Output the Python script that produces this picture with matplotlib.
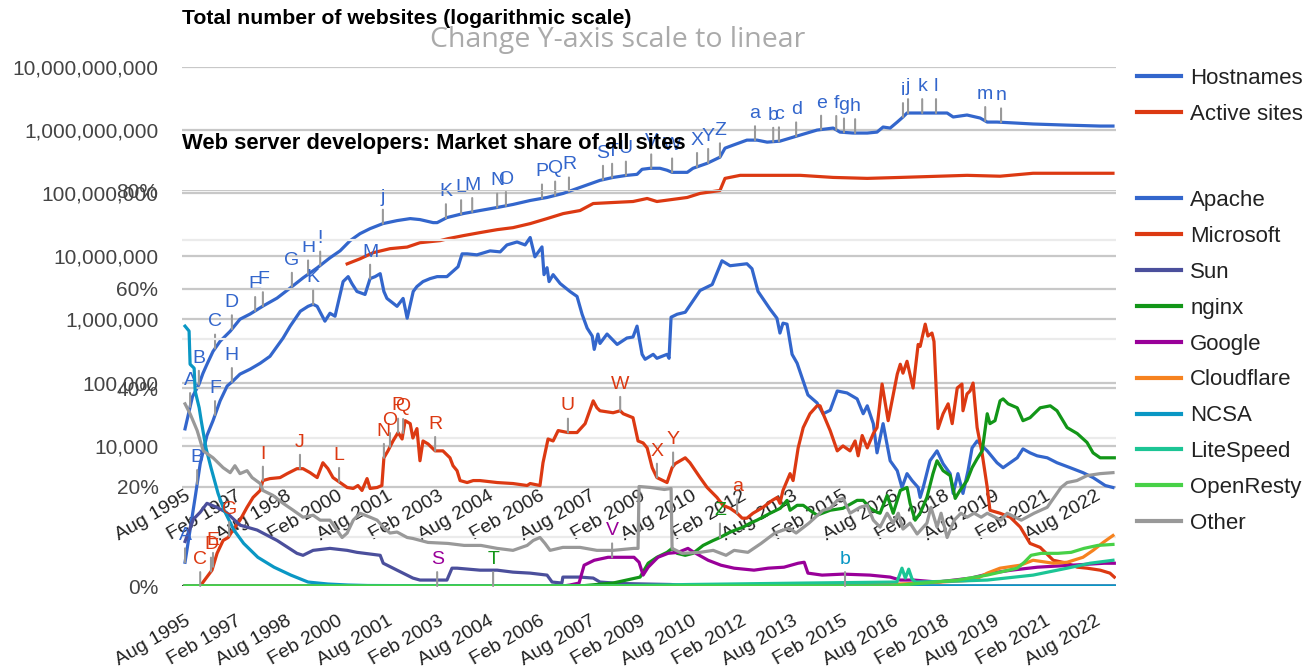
import numpy as np
import matplotlib
matplotlib.use("Agg")
import matplotlib.pyplot as plt
from matplotlib.lines import Line2D

plt.rcParams['font.family'] = ['Liberation Sans', 'DejaVu Sans']

# ---------------- data: total number of websites (log scale) ----------------
hostnames_x = [1995.58, 1995.80, 1995.99, 1996.11, 1996.23, 1996.41, 1996.62, 1996.92, 1997.21, 1997.51,
               1997.89, 1998.31, 1998.70, 1999.08, 1999.50, 1999.88, 2000.18, 2000.48, 2000.77, 2001.07,
               2001.45, 2001.87, 2002.26, 2002.55, 2002.94, 2003.06, 2003.35, 2003.83, 2004.33, 2004.84,
               2005.31, 2005.82, 2006.32, 2006.80, 2007.30, 2007.89, 2008.28, 2008.69, 2008.99, 2009.14,
               2009.38, 2009.67, 2009.88, 2010.03, 2010.48, 2010.65, 2011.07, 2011.45, 2011.60, 2011.84,
               2012.25, 2012.55, 2012.85, 2013.23, 2013.83, 2014.33, 2014.81, 2015.01, 2015.40, 2015.82,
               2016.11, 2016.29, 2016.50, 2016.71, 2016.88, 2017.00, 2017.39, 2017.77, 2018.19, 2018.37,
               2018.78, 2019.17, 2019.38, 2019.67, 2020.15, 2020.74, 2021.75, 2022.73, 2023.11]
hostnames_y = [1.86e4, 6.0e4, 9.3e4, 1.40e5, 1.95e5, 3.13e5, 4.52e5, 6.52e5, 1.01e6, 1.22e6,
               1.63e6, 2.18e6, 3.15e6, 4.55e6, 6.56e6, 9.46e6, 1.22e7, 1.77e7, 2.28e7, 2.74e7,
               3.29e7, 3.67e7, 3.95e7, 3.81e7, 3.41e7, 3.41e7, 4.10e7, 4.74e7, 5.30e7, 5.92e7,
               6.61e7, 7.64e7, 8.53e7, 9.89e7, 1.23e8, 1.59e8, 1.77e8, 1.91e8, 1.98e8, 2.38e8,
               2.47e8, 2.47e8, 2.30e8, 2.13e8, 2.13e8, 2.47e8, 2.96e8, 3.70e8, 5.14e8, 5.74e8,
               6.89e8, 6.89e8, 6.40e8, 6.64e8, 8.28e8, 9.93e8, 1.07e9, 9.23e8, 8.91e8, 8.91e8,
               9.23e8, 1.11e9, 1.07e9, 1.33e9, 1.60e9, 1.85e9, 1.85e9, 1.85e9, 1.85e9, 1.60e9,
               1.72e9, 1.54e9, 1.33e9, 1.33e9, 1.29e9, 1.24e9, 1.19e9, 1.15e9, 1.15e9]

active_x = [2000.39, 2000.77, 2001.16, 2001.66, 2002.17, 2002.55, 2003.15, 2003.38, 2003.83, 2004.33,
            2004.84, 2005.31, 2005.82, 2006.32, 2006.80, 2007.30, 2007.69, 2008.28, 2008.87, 2009.29,
            2009.58, 2010.48, 2010.86, 2011.45, 2011.60, 2012.05, 2013.83, 2014.81, 2015.82, 2016.80,
            2018.78, 2019.76, 2020.74, 2023.11]
active_y = [7.59e6, 9.12e6, 1.14e7, 1.32e7, 1.40e7, 1.64e7, 1.77e7, 1.90e7, 2.12e7, 2.37e7,
            2.64e7, 2.84e7, 3.29e7, 3.95e7, 4.74e7, 5.30e7, 6.84e7, 7.10e7, 7.36e7, 8.22e7,
            7.36e7, 8.53e7, 9.89e7, 1.10e8, 1.71e8, 1.91e8, 1.91e8, 1.77e8, 1.71e8, 1.77e8,
            1.91e8, 1.85e8, 2.06e8, 2.06e8]

# ---------------- data: market share of all sites (%) ----------------
apache_x = [1995.58, 1995.73, 1995.88, 1996.03, 1996.23, 1996.41, 1996.62, 1996.83, 1997.00, 1997.21,
            1997.51, 1997.81, 1998.10, 1998.49, 1998.70, 1999.00, 1999.23, 1999.38, 1999.50, 1999.73,
            1999.88, 2000.03, 2000.27, 2000.42, 2000.53, 2000.68, 2000.92, 2001.07, 2001.22, 2001.37,
            2001.48, 2001.57, 2001.87, 2002.05, 2002.17, 2002.35, 2002.46, 2002.64, 2002.85, 2003.06,
            2003.35, 2003.68, 2003.80, 2003.95, 2004.24, 2004.63, 2004.93, 2005.13, 2005.43, 2005.67,
            2005.82, 2005.96, 2006.17, 2006.23, 2006.32, 2006.38, 2006.50, 2006.71, 2007.00, 2007.21,
            2007.36, 2007.51, 2007.66, 2007.72, 2007.83, 2007.89, 2008.10, 2008.40, 2008.69, 2008.87,
            2008.99, 2009.14, 2009.23, 2009.47, 2009.58, 2009.88, 2009.94, 2010.00, 2010.18, 2010.42,
            2010.86, 2011.22, 2011.51, 2011.75, 2012.25, 2012.40, 2012.58, 2012.94, 2013.14, 2013.23,
            2013.32, 2013.44, 2013.59, 2013.74, 2013.92, 2014.06, 2014.33, 2014.51, 2014.72, 2014.93,
            2015.22, 2015.52, 2015.70, 2015.82, 2016.00, 2016.11, 2016.29, 2016.50, 2016.71, 2016.85,
            2017.00, 2017.15, 2017.33, 2017.39, 2017.48, 2017.68, 2017.89, 2018.07, 2018.28, 2018.37,
            2018.51, 2018.66, 2018.81, 2018.93, 2019.08, 2019.38, 2019.67, 2019.85, 2020.06, 2020.27,
            2020.44, 2020.65, 2020.86, 2021.16, 2021.45, 2021.84, 2022.22, 2022.52, 2022.88, 2023.11]
apache_y = [4.8, 11.3, 17.9, 24.7, 30.4, 33.4, 37.4, 40.4, 41.4, 42.8,
            43.8, 45.0, 46.4, 50.1, 52.5, 55.5, 56.5, 56.9, 56.5, 53.5,
            55.1, 54.5, 61.5, 62.5, 61.1, 59.5, 58.9, 62.1, 62.5, 63.1,
            59.5, 58.1, 56.5, 58.1, 54.1, 59.5, 60.5, 61.5, 62.1, 62.5,
            62.5, 64.5, 67.1, 67.1, 66.9, 67.7, 67.5, 68.9, 69.5, 68.9,
            70.4, 66.5, 68.5, 62.9, 64.3, 61.5, 62.9, 61.1, 59.5, 58.5,
            54.9, 52.1, 50.5, 47.8, 50.9, 49.0, 50.9, 48.8, 50.1, 50.3,
            52.5, 46.8, 45.8, 46.8, 46.0, 46.8, 46.0, 54.3, 54.9, 55.3,
            59.7, 60.9, 65.7, 64.7, 65.1, 64.1, 59.5, 55.9, 54.1, 51.1,
            53.1, 52.9, 46.8, 45.0, 41.4, 38.6, 37.0, 34.8, 35.5, 39.4,
            39.0, 37.8, 34.8, 36.4, 32.8, 26.9, 32.8, 25.3, 23.3, 19.9,
            22.7, 21.3, 19.9, 17.9, 19.9, 25.3, 27.3, 24.7, 22.7, 18.7,
            22.7, 18.7, 23.3, 27.9, 29.3, 27.3, 24.9, 23.9, 24.9, 25.9,
            27.7, 26.9, 26.3, 25.9, 24.9, 23.9, 22.9, 21.9, 20.3, 19.9]

microsoft_x = [1996.03, 1996.38, 1996.53, 1996.71, 1996.86, 1997.00, 1997.21, 1997.42, 1997.60, 1997.81,
               1997.89, 1998.10, 1998.40, 1998.61, 1998.90, 1999.08, 1999.29, 1999.50, 1999.67, 1999.82,
               1999.97, 2000.18, 2000.39, 2000.57, 2000.71, 2000.83, 2000.98, 2001.07, 2001.28, 2001.42,
               2001.48, 2001.60, 2001.75, 2001.90, 2002.02, 2002.11, 2002.26, 2002.34, 2002.46, 2002.55,
               2002.64, 2002.79, 2003.00, 2003.23, 2003.44, 2003.53, 2003.65, 2003.74, 2003.95, 2004.13,
               2004.33, 2004.84, 2005.31, 2005.73, 2005.82, 2006.11, 2006.20, 2006.35, 2006.50, 2006.65,
               2006.94, 2007.21, 2007.45, 2007.69, 2007.80, 2007.89, 2008.28, 2008.49, 2008.58, 2008.87,
               2009.02, 2009.17, 2009.29, 2009.44, 2009.58, 2009.88, 2010.03, 2010.12, 2010.42, 2010.56,
               2010.86, 2011.07, 2011.36, 2011.54, 2011.75, 2011.96, 2012.11, 2012.25, 2012.43, 2012.73,
               2013.00, 2013.15, 2013.23, 2013.32, 2013.53, 2013.62, 2013.77, 2013.92, 2014.12, 2014.33,
               2014.42, 2014.51, 2014.72, 2014.93, 2015.10, 2015.31, 2015.46, 2015.55, 2015.67, 2015.82,
               2016.00, 2016.11, 2016.26, 2016.44, 2016.71, 2016.80, 2016.88, 2017.00, 2017.18, 2017.33,
               2017.39, 2017.54, 2017.62, 2017.74, 2017.80, 2017.92, 2018.07, 2018.22, 2018.34, 2018.49,
               2018.63, 2018.66, 2018.78, 2018.87, 2018.96, 2019.08, 2019.23, 2019.38, 2019.46, 2019.76,
               2020.06, 2020.36, 2020.65, 2020.95, 2021.34, 2021.75, 2022.05, 2022.34, 2022.73, 2023.02,
               2023.15]
microsoft_y = [0.0, 3.2, 6.6, 9.2, 9.8, 11.3, 13.3, 15.9, 17.9, 19.3,
               21.3, 21.7, 21.9, 22.7, 23.7, 23.7, 22.9, 21.9, 24.9, 23.7,
               21.9, 20.9, 19.9, 19.7, 20.3, 19.3, 21.7, 19.7, 19.9, 20.3,
               25.9, 27.3, 29.3, 31.0, 29.7, 33.4, 32.8, 29.9, 31.8, 25.3,
               29.3, 28.7, 27.3, 27.3, 25.9, 24.3, 23.3, 21.3, 20.9, 21.3,
               21.3, 20.9, 20.7, 20.3, 20.7, 20.3, 24.9, 29.7, 29.3, 31.4,
               31.0, 31.0, 32.8, 37.4, 36.0, 35.4, 35.0, 35.4, 34.8, 34.0,
               29.3, 28.9, 27.9, 23.9, 21.9, 20.9, 23.9, 24.7, 25.9, 24.9,
               21.9, 19.9, 17.9, 16.3, 15.7, 14.7, 13.7, 13.7, 14.7, 15.9,
               17.3, 17.9, 16.7, 19.3, 22.7, 21.3, 27.9, 32.0, 34.8, 36.4,
               36.4, 34.8, 31.4, 27.3, 28.3, 27.3, 29.3, 26.3, 30.4, 27.9,
               30.8, 32.0, 40.8, 33.4, 42.8, 44.8, 43.0, 45.4, 40.0, 48.8,
               48.4, 52.9, 50.5, 51.1, 49.4, 31.8, 34.8, 36.8, 32.8, 40.0,
               40.8, 35.4, 38.8, 39.4, 41.0, 32.0, 26.7, 19.9, 15.3, 14.7,
               13.9, 11.9, 8.6, 7.8, 5.2, 4.6, 3.8, 3.6, 3.2, 2.6,
               1.8]

sun_x = [1995.58, 1995.83, 1996.03, 1996.23, 1996.52, 1996.80, 1997.21, 1997.72, 1998.31, 1998.90,
         1999.08, 1999.38, 1999.88, 2000.39, 2000.68, 2001.37, 2001.46, 2001.87, 2002.34, 2002.55,
         2003.35, 2003.50, 2003.65, 2004.33, 2004.84, 2005.31, 2005.82, 2006.32, 2006.47, 2006.76,
         2006.79, 2007.30, 2007.69, 2007.89, 2008.50, 2010.00, 2010.50, 2023.15]
sun_y = [9.0, 13.5, 14.9, 16.7, 15.9, 14.9, 12.3, 11.3, 9.2, 6.6,
         6.2, 7.2, 7.6, 7.2, 6.8, 6.2, 4.6, 3.2, 1.6, 1.2,
         1.2, 3.6, 3.6, 3.2, 3.2, 2.8, 2.6, 2.2, 0.8, 0.6,
         1.8, 1.8, 1.6, 0.8, 0.5, 0.3, 0.0, 0.0]

nginx_x = [1995.58, 2007.30, 2008.28, 2009.08, 2009.32, 2009.58, 2009.88, 2010.03, 2010.18, 2010.42,
           2010.65, 2010.95, 2011.25, 2011.45, 2011.75, 2012.14, 2012.35, 2012.55, 2012.94, 2013.24,
           2013.44, 2013.53, 2013.74, 2013.92, 2014.12, 2014.33, 2014.72, 2015.10, 2015.52, 2015.70,
           2015.91, 2016.11, 2016.20, 2016.41, 2016.59, 2016.80, 2017.00, 2017.09, 2017.24, 2017.39,
           2017.59, 2017.77, 2017.89, 2018.07, 2018.28, 2018.43, 2018.57, 2018.78, 2018.93, 2019.08,
           2019.23, 2019.38, 2019.46, 2019.61, 2019.76, 2019.85, 2020.00, 2020.27, 2020.44, 2020.65,
           2020.95, 2021.25, 2021.45, 2021.75, 2022.05, 2022.34, 2022.52, 2022.73, 2023.15]
nginx_y = [0.0, 0.0, 0.6, 1.8, 4.6, 5.8, 6.8, 7.6, 6.6, 6.2,
           6.6, 8.2, 9.2, 9.8, 10.9, 11.9, 12.7, 13.3, 14.7, 15.7,
           17.3, 15.3, 16.3, 16.3, 15.3, 14.3, 15.3, 15.7, 17.3, 17.3,
           15.7, 14.9, 14.7, 18.3, 14.7, 19.3, 19.9, 16.7, 13.3, 14.7,
           17.9, 22.7, 25.3, 23.3, 22.3, 17.7, 19.3, 21.3, 23.9, 25.7,
           27.3, 34.8, 32.8, 33.4, 37.4, 37.8, 36.8, 36.0, 33.4, 34.0,
           36.0, 36.4, 35.4, 32.0, 30.8, 29.0, 26.9, 25.9, 25.9]

google_x = [1995.58, 2006.80, 2007.00, 2007.27, 2007.42, 2007.72, 2008.13, 2008.52, 2008.90, 2009.05,
            2009.17, 2009.32, 2009.61, 2009.91, 2010.21, 2010.50, 2010.68, 2011.10, 2011.48, 2011.87,
            2012.46, 2012.88, 2013.35, 2013.77, 2013.95, 2014.06, 2014.48, 2015.10, 2015.90, 2016.50,
            2016.80, 2017.20, 2017.90, 2018.90, 2019.50, 2020.10, 2020.87, 2021.88, 2022.85, 2023.15]
google_y = [0.0, 0.0, 0.2, 0.6, 4.2, 5.2, 5.8, 5.8, 5.8, 4.8,
            2.2, 3.8, 5.8, 6.6, 6.8, 7.6, 6.8, 5.2, 4.2, 3.6,
            3.2, 3.6, 3.8, 4.6, 4.8, 2.6, 2.2, 2.4, 2.2, 1.8,
            1.2, 1.2, 0.8, 1.6, 2.6, 3.2, 3.8, 4.2, 4.6, 4.6]

cloudflare_x = [1995.58, 2012.00, 2016.80, 2018.00, 2019.00, 2019.38, 2019.76, 2020.36, 2020.74, 2021.34,
                2021.75, 2022.22, 2022.52, 2022.82, 2023.11]
cloudflare_y = [0.0, 0.0, 0.4, 0.8, 1.2, 2.6, 3.6, 4.2, 5.2, 4.6,
                4.8, 5.8, 7.2, 8.8, 10.2]

ncsa_x = [1995.58, 1995.70, 1995.73, 1995.85, 1995.88, 1996.00, 1996.06, 1996.20, 1996.35, 1996.56,
          1996.74, 1997.03, 1997.32, 1997.74, 1998.22, 1998.72, 1999.23, 1999.82, 2000.41, 2001.00,
          2005.00, 2023.15]
ncsa_y = [52.5, 51.5, 44.8, 44.0, 39.4, 36.0, 33.4, 27.9, 23.9, 18.7,
          15.3, 11.3, 8.6, 5.8, 3.8, 2.2, 0.8, 0.4, 0.2, 0.1,
          0.0, 0.0]

litespeed_x = [1995.58, 2008.00, 2010.50, 2014.00, 2016.70, 2016.85, 2016.95, 2017.05, 2017.15, 2017.25,
               2018.50, 2019.38, 2020.74, 2021.75, 2022.43, 2023.11]
litespeed_y = [0.0, 0.0, 0.3, 0.6, 0.8, 3.6, 1.6, 3.4, 1.4, 0.8,
               1.0, 1.2, 2.2, 3.6, 4.6, 5.2]

openresty_x = [1995.58, 2016.50, 2017.50, 2018.50, 2019.38, 2020.27, 2020.48, 2020.68, 2020.98, 2021.48,
               2021.87, 2022.25, 2022.66, 2023.11]
openresty_y = [0.0, 0.0, 0.6, 1.2, 2.2, 3.6, 4.8, 6.2, 6.6, 6.6,
               6.8, 7.6, 8.2, 8.4]

other_x = [1995.58, 1995.73, 1995.94, 1996.12, 1996.41, 1996.71, 1996.92, 1997.06, 1997.21, 1997.42,
           1997.57, 1997.81, 1997.89, 1998.19, 1998.49, 1998.79, 1999.08, 1999.38, 1999.59, 1999.88,
           2000.09, 2000.24, 2000.39, 2000.57, 2000.77, 2001.07, 2001.28, 2001.46, 2001.66, 2001.87,
           2002.17, 2002.34, 2002.79, 2003.38, 2003.86, 2004.36, 2004.84, 2005.31, 2005.73, 2005.91,
           2006.11, 2006.26, 2006.41, 2006.79, 2007.30, 2007.80, 2008.28, 2008.90, 2009.02, 2009.05,
           2009.40, 2009.80, 2010.00, 2010.03, 2010.33, 2010.86, 2011.25, 2011.63, 2011.87, 2012.28,
           2012.67, 2013.08, 2013.50, 2013.71, 2014.09, 2014.51, 2014.72, 2014.93, 2015.10, 2015.31,
           2015.61, 2015.82, 2016.00, 2016.20, 2016.41, 2016.59, 2016.74, 2016.88, 2017.09, 2017.30,
           2017.59, 2017.71, 2017.89, 2018.01, 2018.19, 2018.40, 2018.60, 2018.78, 2018.99, 2019.20,
           2019.38, 2019.79, 2019.97, 2020.39, 2020.77, 2021.16, 2021.57, 2021.75, 2022.04, 2022.34,
           2022.73, 2023.11]
other_y = [36.8, 34.8, 31.4, 27.3, 25.9, 23.9, 22.9, 24.3, 22.7, 23.3,
           21.9, 20.7, 19.3, 18.3, 16.7, 15.3, 13.9, 14.3, 13.3, 13.3,
           11.3, 9.8, 10.7, 13.3, 14.7, 13.9, 13.3, 11.9, 10.7, 10.9,
           9.8, 9.6, 8.8, 8.6, 8.2, 8.2, 7.6, 7.2, 8.2, 9.2,
           9.8, 8.6, 7.2, 7.8, 7.8, 7.2, 7.2, 7.6, 7.6, 20.1,
           19.9, 19.5, 19.7, 7.6, 6.6, 6.8, 7.2, 6.2, 7.2, 6.8,
           8.6, 10.7, 11.7, 10.7, 12.7, 15.3, 15.7, 17.3, 17.7, 14.7,
           15.9, 16.3, 13.3, 11.9, 14.7, 12.7, 14.7, 11.5, 12.7, 10.5,
           12.7, 15.9, 11.9, 14.7, 9.8, 13.3, 14.7, 13.9, 14.7, 13.9,
           14.7, 13.3, 14.7, 13.3, 14.7, 15.9, 19.9, 20.9, 21.3, 22.3,
           22.7, 22.9]

# ---------------- event annotations (letter, date) ----------------
hostnames_notes = [('A', 1995.73), ('B', 1995.99), ('C', 1996.47), ('D', 1996.97), ('E', 1997.66),
                   ('F', 1997.89), ('G', 1998.75), ('H', 1999.23), ('I', 1999.59), ('j', 2001.45),
                   ('K', 2003.32), ('L', 2003.77), ('M', 2004.10), ('N', 2004.84), ('O', 2005.10),
                   ('P', 2006.17), ('Q', 2006.56), ('R', 2006.97), ('S', 2007.98), ('T', 2008.25),
                   ('U', 2008.66), ('V', 2009.41), ('W', 2010.03), ('X', 2010.77), ('Y', 2011.10),
                   ('Z', 2011.45), ('a', 2012.49), ('b', 2013.03), ('c', 2013.20), ('d', 2013.71),
                   ('e', 2014.45), ('f', 2014.90), ('g', 2015.13), ('h', 2015.46), ('i', 2016.88),
                   ('j', 2017.03), ('k', 2017.45), ('l', 2017.86), ('m', 2019.32), ('n', 2019.79)]
apache_notes = [('A', 1995.58), ('B', 1995.94), ('F', 1996.47), ('H', 1996.97), ('K', 1999.38), ('M', 2001.07)]
microsoft_notes = [('C', 1996.03), ('D', 1996.35), ('E', 1996.41), ('G', 1996.89), ('I', 1997.89),
                   ('J', 1998.99), ('L', 2000.15), ('N', 2001.48), ('O', 2001.66), ('P', 2001.90),
                   ('Q', 2002.05), ('R', 2003.00), ('U', 2006.94), ('W', 2008.49), ('X', 2009.58),
                   ('Y', 2010.06), ('a', 2011.96)]
google_notes = [('S', 2003.06), ('V', 2008.25)]
nginx_notes = [('T', 2004.72), ('Z', 2011.45)]
ncsa_notes = [('b', 2015.16)]

tick_labels = ['Aug 1995', 'Feb 1997', 'Aug 1998', 'Feb 2000', 'Aug 2001', 'Feb 2003', 'Aug 2004',
               'Feb 2006', 'Aug 2007', 'Feb 2009', 'Aug 2010', 'Feb 2012', 'Aug 2013', 'Feb 2015',
               'Aug 2016', 'Feb 2018', 'Aug 2019', 'Feb 2021', 'Aug 2022']
share_ticks = [0, 20, 40, 60, 80]
host_ticks = [1e4, 1e5, 1e6, 1e7, 1e8, 1e9, 1e10]

# ---------------- styling ----------------
C = {'Hostnames': '#3366cc', 'Active sites': '#dc3912', 'Apache': '#3366cc', 'Microsoft': '#dc3912',
     'Sun': '#4b4f9c', 'nginx': '#129618', 'Google': '#990099', 'Cloudflare': '#f6821f',
     'NCSA': '#0a97c4', 'LiteSpeed': '#1cc595', 'OpenResty': '#47d147', 'Other': '#999999'}
LW = 2.3
TICKC = '#444444'

months = {'Jan': 1, 'Feb': 2, 'Aug': 8}
tick_pos = [int(s.split()[1]) + (months[s.split()[0]] - 1) / 12 for s in tick_labels]

W, H = 1314, 671
fig = plt.figure(figsize=(W / 100, H / 100), dpi=100)
L, R = 182, 1116
ax1 = fig.add_axes([L / W, 1 - 461 / H, (R - L) / W, (461 - 66.7) / H])
ax2 = fig.add_axes([L / W, 1 - 586 / H, (R - L) / W, (586 - 190) / H])
XL = (1995.49, 2023.20)

for ax in (ax1, ax2):
    ax.set_facecolor('none')
    for s in ax.spines.values():
        s.set_visible(False)
    ax.set_xlim(*XL)
    ax.set_xticks(tick_pos)
    ax.set_xticklabels(tick_labels, rotation=30, ha='right', rotation_mode='anchor',
                       fontsize=14, color='#222222')
    ax.tick_params(axis='x', length=0, pad=19)
    ax.tick_params(axis='y', length=0, pad=17, labelsize=15, labelcolor=TICKC)

# chart 1 (log)
ax1.set_yscale('log')
ax1.set_ylim(10 ** 3.761, 1e10)
ax1.set_yticks(host_ticks)
ax1.set_yticklabels(['{:,}'.format(int(v)) for v in host_ticks])
ax1.minorticks_off()
ax1.yaxis.grid(True, color='#c8c8c8', lw=1.6)
ax1.set_axisbelow(True)
ax1.plot(hostnames_x, hostnames_y, color=C['Hostnames'], lw=LW, solid_joinstyle='round', zorder=3)
ax1.plot(active_x, active_y, color=C['Active sites'], lw=LW, solid_joinstyle='round', zorder=3)

# chart 2 (share)
ax2.set_ylim(0, 80)
ax2.set_yticks(share_ticks)
ax2.set_yticklabels(['{}%'.format(v) for v in share_ticks])
ax2.set_yticks([10, 30, 50, 70], minor=True)
ax2.tick_params(axis='y', which='minor', length=0)
ax2.yaxis.grid(True, which='major', color='#c8c8c8', lw=1.6)
ax2.yaxis.grid(True, which='minor', color='#ebebeb', lw=1.6)
ax2.set_axisbelow(True)
ax2.axhline(0, color='#333333', lw=1.5, zorder=1)

share_series = [('Apache', apache_x, apache_y), ('Microsoft', microsoft_x, microsoft_y),
                ('Sun', sun_x, sun_y), ('nginx', nginx_x, nginx_y), ('Google', google_x, google_y),
                ('Cloudflare', cloudflare_x, cloudflare_y), ('NCSA', ncsa_x, ncsa_y),
                ('LiteSpeed', litespeed_x, litespeed_y), ('OpenResty', openresty_x, openresty_y),
                ('Other', other_x, other_y)]
for i, (name, xs, ys) in enumerate(share_series):
    ax2.plot(xs, ys, color=C[name], lw=LW, solid_joinstyle='round', zorder=3 + i * 0.01)


def annotate(ax, notes, xs, ys, color, log=False):
    for letter, d in notes:
        if log:
            yv = 10 ** np.interp(d, xs, np.log10(ys))
        else:
            yv = np.interp(d, xs, ys)
        ax.annotate(letter, xy=(d, yv), xytext=(0, 13), textcoords='offset points',
                    ha='center', va='bottom', color=color, fontsize=14, zorder=5,
                    arrowprops=dict(arrowstyle='-', color='#999999', lw=1.5, shrinkA=1, shrinkB=0))


annotate(ax1, hostnames_notes, hostnames_x, hostnames_y, C['Hostnames'], log=True)
annotate(ax2, apache_notes, apache_x, apache_y, C['Apache'])
annotate(ax2, microsoft_notes, microsoft_x, microsoft_y, C['Microsoft'])
annotate(ax2, google_notes, google_x, google_y, C['Google'])
annotate(ax2, nginx_notes, nginx_x, nginx_y, C['nginx'])
annotate(ax2, ncsa_notes, ncsa_x, ncsa_y, C['NCSA'])

# legends
leg_kw = dict(loc='upper left', frameon=False, fontsize=16, handlelength=2.0, handletextpad=0.4,
              labelspacing=0.67, borderpad=0, borderaxespad=0, bbox_transform=fig.transFigure,
              labelcolor='#222222')
h1 = [Line2D([], [], color=C[n], lw=3) for n in ('Hostnames', 'Active sites')]
lg1 = ax1.legend(h1, ['Hostnames', 'Active sites'], bbox_to_anchor=(1137 / W, 1 - 68 / H), **leg_kw)
names2 = [s[0] for s in share_series]
h2 = [Line2D([], [], color=C[n], lw=3) for n in names2]
lg2 = ax2.legend(h2, names2, bbox_to_anchor=(1137 / W, 1 - 190 / H), **leg_kw)

# titles
fig.text(L / W, 1 - 18 / H, 'Total number of websites (logarithmic scale)', ha='left', va='center',
         fontsize=15.3, fontweight='bold', color='black', zorder=10)
fig.text(618 / W, 1 - 40 / H, 'Change Y-axis scale to linear', ha='center', va='center',
         fontsize=20.5, color='#aaaaaa', family=['Open Sans', 'DejaVu Sans'], zorder=10)
fig.text(L / W, 1 - 143 / H, 'Web server developers: Market share of all sites', ha='left', va='center',
         fontsize=15.8, fontweight='bold', color='black', zorder=10)

fig.savefig('out.png', dpi=100)
